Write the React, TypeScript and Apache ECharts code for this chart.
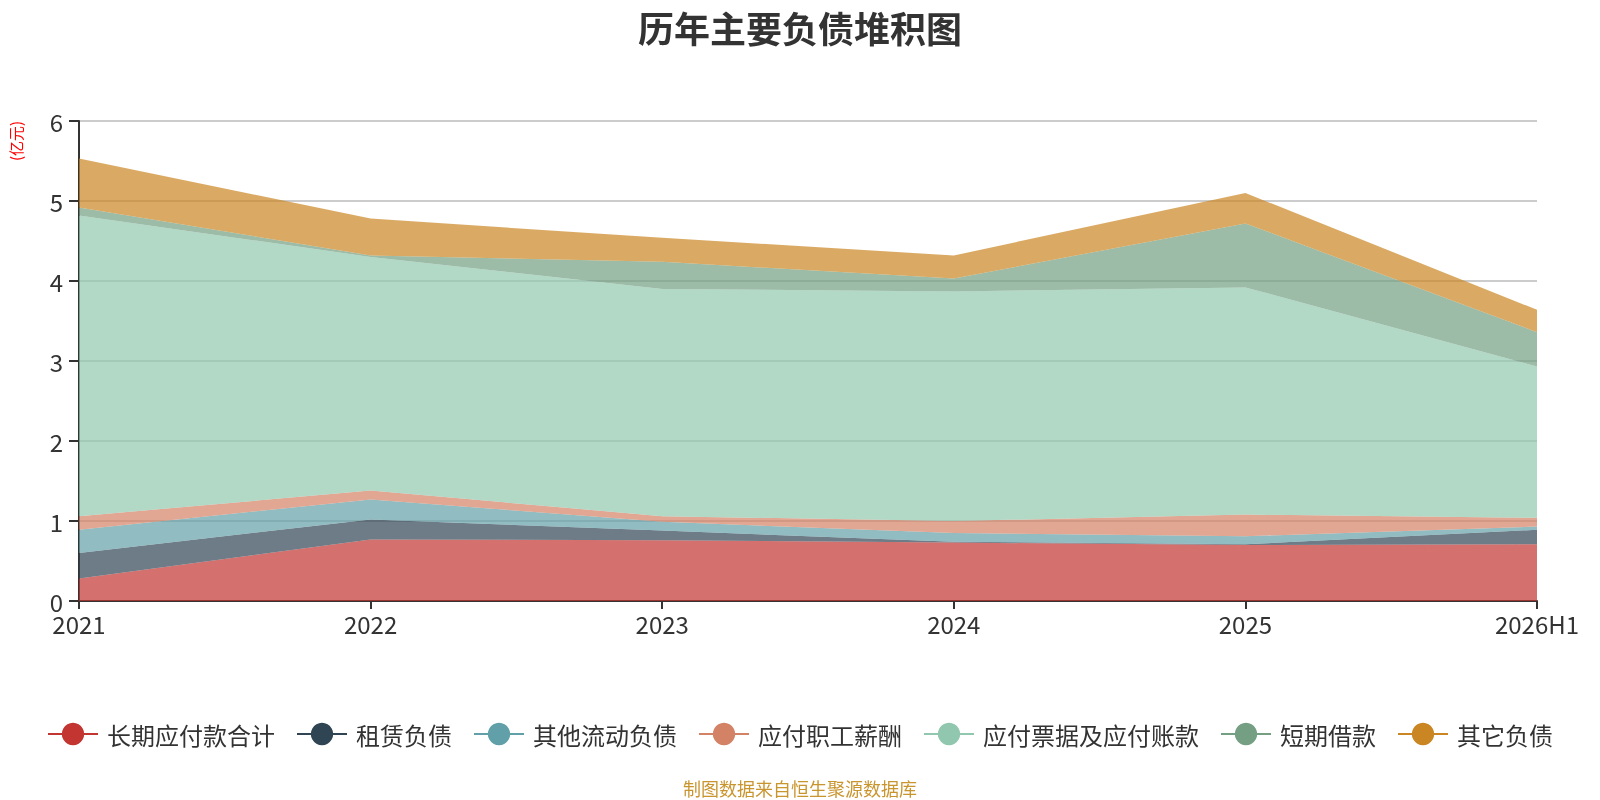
import React, { useEffect, useRef } from "react";
import * as echarts from "echarts";

const categories = ["2021", "2022", "2023", "2024", "2025", "2026H1"];
const seriesNames = ["长期应付款合计", "租赁负债", "其他流动负债", "应付职工薪酬", "应付票据及应付账款", "短期借款", "其它负债"];
const longTermPayables = [0.28, 0.77, 0.76, 0.73, 0.70, 0.71];
const leaseLiabilities = [0.32, 0.25, 0.12, 0.01, 0.01, 0.18];
const otherCurrent = [0.29, 0.25, 0.11, 0.11, 0.10, 0.04];
const payroll = [0.17, 0.11, 0.07, 0.15, 0.27, 0.11];
const billsPayable = [3.76, 2.92, 2.84, 2.87, 2.84, 1.89];
const shortLoans = [0.10, 0.02, 0.34, 0.16, 0.80, 0.43];
const otherLiabilities = [0.61, 0.46, 0.30, 0.29, 0.38, 0.28];
const yTicks = { min: 0, max: 6, interval: 1 };

const colors = ["#c23531", "#2f4554", "#61a0a8", "#d48265", "#91c7ae", "#749f83", "#ca8622"];
const FONT = "'Noto Sans CJK SC', 'Noto Sans', sans-serif";

export default function App() {
  const ref = useRef<HTMLDivElement>(null);
  useEffect(() => {
    if (!ref.current) return;
    const chart = echarts.init(ref.current, null, { renderer: "svg" });
    const values = [longTermPayables, leaseLiabilities, otherCurrent, payroll, billsPayable, shortLoans, otherLiabilities];
    chart.setOption({
      animation: false,
      color: colors,
      textStyle: { fontFamily: FONT },
      title: {
        text: "历年主要负债堆积图",
        left: "center",
        top: 4,
        textStyle: { fontSize: 36, fontWeight: "bold", color: "#333", fontFamily: FONT },
      },
      legend: {
        top: 717,
        left: "center",
        itemWidth: 50,
        itemHeight: 28,
        itemGap: 21,
        lineStyle: { width: 2, opacity: 1 },
        textStyle: { fontSize: 24, color: "#333", fontFamily: FONT, padding: [0, 0, 0, 4] },
        data: seriesNames,
      },
      grid: { left: 79, right: 63, top: 121, bottom: 199, containLabel: false },
      xAxis: {
        type: "category",
        boundaryGap: false,
        data: categories,
        axisLine: { lineStyle: { color: "#333", width: 2 } },
        axisTick: { length: 8, lineStyle: { color: "#333", width: 2 } },
        axisLabel: { fontSize: 24, color: "#333", margin: 10, fontFamily: FONT },
      },
      yAxis: {
        type: "value",
        min: yTicks.min,
        max: yTicks.max,
        interval: yTicks.interval,
        axisLine: { show: true, lineStyle: { color: "#333", width: 2 } },
        axisTick: { show: true, length: 10, lineStyle: { color: "#333", width: 2 } },
        axisLabel: { fontSize: 24, color: "#333", margin: 16, fontFamily: FONT },
        splitLine: { show: true, lineStyle: { color: "#ccc", width: 2 } },
      },
      graphic: [
        {
          type: "text",
          x: 8,
          y: 161,
          rotation: Math.PI / 2,
          style: { text: "(亿元)", fill: "#ff0000", fontSize: 15, fontFamily: FONT },
        },
        {
          type: "text",
          left: "center",
          top: 779,
          style: { text: "制图数据来自恒生聚源数据库", fill: "#c9952e", fontSize: 18, fontFamily: FONT },
        },
      ],
      series: seriesNames.map((name, i) => ({
        name,
        type: "line",
        stack: "total",
        data: values[i],
        symbol: "circle",
        symbolSize: 8,
        showSymbol: false,
        lineStyle: { width: 0 },
        areaStyle: { opacity: 0.7 },
      })),
    });
    return () => chart.dispose();
  }, []);
  return <div ref={ref} style={{ position: "fixed", left: 0, top: 0, width: 1600, height: 800 }} />;
}
